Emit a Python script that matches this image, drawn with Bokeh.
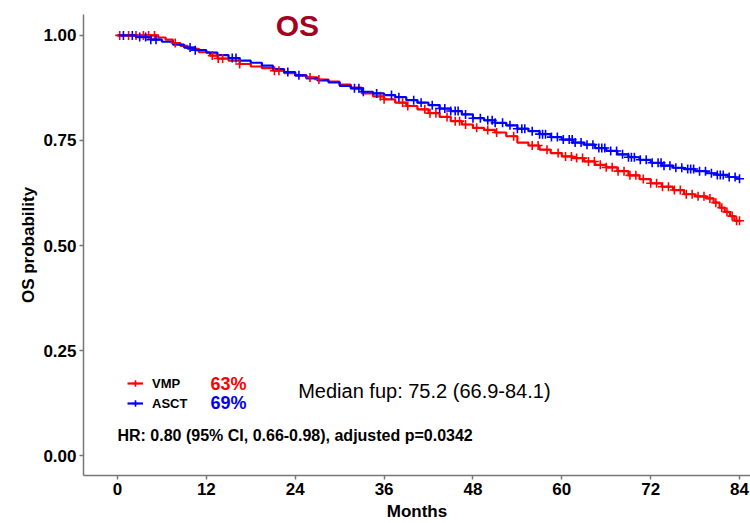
import numpy as np
from bokeh.plotting import figure
from bokeh.models import Range1d, Label, Legend, LegendItem, FixedTicker, NumeralTickFormatter
from bokeh.embed import file_html
from bokeh.resources import INLINE

# ---- data ----
vmp_time = [0, 5.5, 6.5, 7.5, 8.5, 9.5, 11, 12.5, 13.5, 15, 16.5, 18, 19.5, 21, 22.5, 24,
            25.5, 27, 28.5, 30, 31.5, 33, 34.5, 36, 37.5, 39, 40.5, 42, 43.5, 45, 46.5,
            48, 49.5, 51, 52.5, 54, 55.5, 57, 58.5, 60, 61.5, 63, 64.5, 66, 67.5, 69,
            70.5, 72, 73.5, 75, 76.5, 78, 79.5, 80.5, 81.3, 82, 82.7, 83.3, 84]
vmp_surv = [1.0, 0.995, 0.99, 0.982, 0.975, 0.968, 0.96, 0.952, 0.945, 0.94, 0.932, 0.926,
            0.922, 0.916, 0.91, 0.905, 0.90, 0.895, 0.89, 0.883, 0.876, 0.862, 0.855,
            0.848, 0.84, 0.832, 0.824, 0.815, 0.806, 0.796, 0.788, 0.78, 0.775, 0.769,
            0.76, 0.745, 0.738, 0.728, 0.72, 0.712, 0.708, 0.70, 0.692, 0.686, 0.677,
            0.667, 0.658, 0.648, 0.64, 0.632, 0.622, 0.617, 0.612, 0.602, 0.59, 0.58,
            0.57, 0.559, 0.559]
asct_time = [0, 2.5, 4.5, 6, 7.5, 9, 10.5, 12, 13.5, 15, 16.5, 18, 19.5, 21, 22.5, 24,
             25.5, 27, 28.5, 30, 31.5, 33, 34.5, 36, 37.5, 39, 40.5, 42, 43.5, 45, 46.5,
             48, 49.5, 51, 52.5, 54, 55.5, 57, 58.5, 60, 61.5, 63, 64.5, 66, 67.5, 69,
             70.5, 72, 73.5, 75, 76.5, 78, 79.5, 81, 82.5, 83.5, 84]
asct_surv = [1.0, 0.996, 0.99, 0.985, 0.978, 0.971, 0.965, 0.959, 0.953, 0.946, 0.94,
             0.935, 0.928, 0.92, 0.913, 0.905, 0.898, 0.893, 0.888, 0.88, 0.874, 0.866,
             0.862, 0.858, 0.853, 0.846, 0.84, 0.834, 0.826, 0.82, 0.812, 0.803, 0.798,
             0.792, 0.786, 0.778, 0.772, 0.765, 0.758, 0.752, 0.745, 0.74, 0.732, 0.725,
             0.717, 0.71, 0.704, 0.697, 0.69, 0.685, 0.682, 0.677, 0.672, 0.668, 0.663,
             0.659, 0.659]
vmp_censor = [0.3, 1.5, 2.5, 3.5, 4.2, 5, 7.8, 12.8, 13.6, 14.2, 16.5, 21.2, 21.8, 26, 27.2,
              35.5, 36, 38.5, 39.2, 41.5, 42.2, 43, 44.5, 45.6, 46.2, 47, 48.5, 50, 51.2,
              53.5, 56, 56.8, 58, 59.5, 60.5, 61.3, 62, 62.8, 63.6, 64.4, 65.2, 66, 66.8,
              67.6, 68.4, 69.2, 70, 71, 72, 72.8, 73.6, 74.4, 75.2, 76, 76.8, 77.6, 78.4,
              79.2, 80, 80.8, 81.6, 82.3, 83, 83.6, 84]
asct_censor = [0.8, 2, 3, 3.8, 4.5, 5.2, 9.8, 10.5, 15.5, 16, 23, 24.5, 32, 32.6, 33.2, 35,
               37, 38, 40, 41, 42.5, 43.5, 44.2, 45, 45.6, 46, 47, 48, 49, 50, 50.6, 51,
               52, 53, 54, 54.6, 55, 56, 57, 57.4, 57.8, 58.6, 59.4, 60.2, 61, 61.4, 61.8,
               62.6, 63.4, 64.2, 65, 65.4, 65.8, 66.6, 67.4, 68.2, 69, 69.4, 69.8, 70.6,
               71.4, 72.2, 73, 73.4, 73.8, 74.6, 75.4, 76.2, 77, 77.4, 77.8, 78.6, 79.4,
               80.2, 81, 81.4, 81.8, 82.6, 83.4, 84]
x_ticks = [0, 12, 24, 36, 48, 60, 72, 84]
y_ticks = [0.0, 0.25, 0.5, 0.75, 1.0]
groups = ["VMP", "ASCT"]
pct_labels = ["63%", "69%"]
title_text = "OS"
median_text = "Median fup: 75.2 (66.9-84.1)"
hr_text = "HR: 0.80 (95% CI, 0.66-0.98), adjusted p=0.0342"

RED = "#ff0000"
BLUE = "#0000ff"
FONT = "Liberation Sans"


def at_times(times, surv, pts):
    idx = np.searchsorted(np.array(times), np.array(pts), side="right") - 1
    return [surv[i] for i in idx]


p = figure(width=750, height=523, output_backend="svg", toolbar_location=None,
           x_range=Range1d(-4.59, 85.48), y_range=Range1d(-0.0474, 1.0498),
           min_border_left=83, min_border_right=0, min_border_top=14, min_border_bottom=46)
p.outline_line_color = None
p.xgrid.visible = False
p.ygrid.visible = False
p.background_fill_color = "white"

# curves
r_vl = p.step(vmp_time, vmp_surv, mode="after", line_color=RED, line_width=2.2)
r_al = p.step(asct_time, asct_surv, mode="after", line_color=BLUE, line_width=2.2)
r_vc = p.scatter(vmp_censor, at_times(vmp_time, vmp_surv, vmp_censor), marker="cross",
                 size=9, line_color=RED, line_width=1.6)
r_ac = p.scatter(asct_censor, at_times(asct_time, asct_surv, asct_censor), marker="cross",
                 size=9, line_color=BLUE, line_width=1.6)

# axes
for ax in (p.xaxis[0], p.yaxis[0]):
    ax.axis_line_color = "#777777"
    ax.axis_line_width = 1.5
    ax.major_tick_line_color = "#777777"
    ax.major_tick_line_width = 1.5
    ax.major_tick_out = 4
    ax.major_tick_in = 0
    ax.minor_tick_line_color = None
    ax.major_label_text_font = FONT
    ax.major_label_text_font_style = "bold"
    ax.major_label_text_font_size = "17px"
    ax.major_label_text_color = "black"
    ax.axis_label_text_font = FONT
    ax.axis_label_text_font_style = "bold"
    ax.axis_label_text_font_size = "17px"
    ax.axis_label_text_color = "black"

p.xaxis.ticker = FixedTicker(ticks=x_ticks)
p.yaxis.ticker = FixedTicker(ticks=y_ticks)
p.yaxis.formatter = NumeralTickFormatter(format="0.00")
p.xaxis.axis_label = "Months"
p.yaxis.axis_label = "OS probability"
p.xaxis.major_label_standoff = 3
p.xaxis.axis_label_standoff = 4
p.yaxis.major_label_standoff = 3
p.yaxis.axis_label_standoff = 2

# title inside plot
p.add_layout(Label(x=24.3, y=1.024, text=title_text, text_align="center",
                   text_baseline="middle", text_font=FONT, text_font_style="bold",
                   text_font_size="30px", text_color="#a50021"))

# legend
legend = Legend(items=[LegendItem(label=groups[0], renderers=[r_vl, r_vc]),
                       LegendItem(label=groups[1], renderers=[r_al, r_ac])],
                location=(44, 62), orientation="vertical",
                label_text_font=FONT, label_text_font_style="bold",
                label_text_font_size="13px", label_text_color="black",
                label_height=20, glyph_height=20,
                glyph_width=16, label_standoff=9, spacing=0, padding=0, margin=0,
                border_line_color=None, background_fill_alpha=0)
p.add_layout(legend, "center")

# percentages and annotations
p.add_layout(Label(x=12.56, y=0.171, text=pct_labels[0], text_baseline="middle",
                   text_font=FONT, text_font_style="bold", text_font_size="18px",
                   text_color=RED))
p.add_layout(Label(x=12.56, y=0.124, text=pct_labels[1], text_baseline="middle",
                   text_font=FONT, text_font_style="bold", text_font_size="18px",
                   text_color=BLUE))
p.add_layout(Label(x=24.4, y=0.154, text=median_text, text_baseline="middle",
                   text_font=FONT, text_font_size="20px", text_color="black"))
p.add_layout(Label(x=0, y=0.047, text=hr_text, text_baseline="middle",
                   text_font=FONT, text_font_style="bold", text_font_size="16px",
                   text_color="black"))

open("out.html", "w").write(file_html(p, INLINE))
